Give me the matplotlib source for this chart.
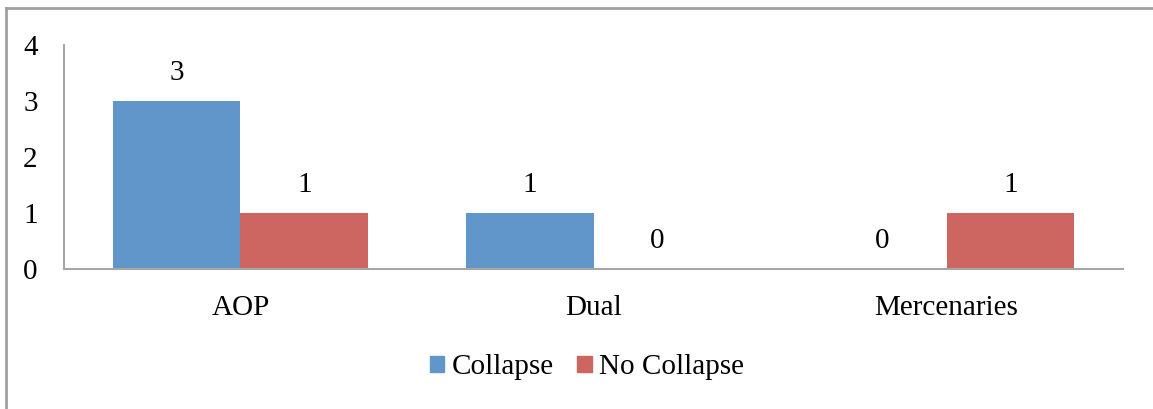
import matplotlib.pyplot as plt
import numpy as np
from matplotlib.lines import Line2D
from matplotlib.patches import Patch

categories = ['AOP', 'Dual', 'Mercenaries']
collapse = [3, 1, 0]
no_collapse = [1, 0, 1]
series_names = ['Collapse', 'No Collapse']
colors = ['#6096C9', '#CD6660']

plt.rcParams['font.family'] = ['Liberation Serif', 'DejaVu Serif']
fs = 21

fig = plt.figure(figsize=(11.53, 4.09), dpi=100)
ax = fig.add_axes([0.0555, 0.3423, 0.9185, 0.5477])

x = np.arange(len(categories))
w = 0.3625
bars1 = ax.bar(x - w / 2, collapse, w, color=colors[0], edgecolor='none')
bars2 = ax.bar(x + w / 2, no_collapse, w, color=colors[1], edgecolor='none')

# value labels above each bar
for bars in (bars1, bars2):
    for b in bars:
        h = b.get_height()
        ax.annotate(f'{h:.0f}', xy=(b.get_x() + b.get_width() / 2, h),
                    xytext=(0, 11), textcoords='offset points',
                    ha='center', va='bottom', fontsize=fs, color='black')

ax.set_xlim(-0.5, len(categories) - 0.5)
ax.set_ylim(0, 4)
ax.set_yticks([0, 1, 2, 3, 4])
ax.set_xticks(x)
ax.set_xticklabels(categories)
ax.tick_params(axis='both', length=0, labelsize=fs)
ax.tick_params(axis='y', pad=19)
ax.tick_params(axis='x', pad=19)

for s in ('top', 'right'):
    ax.spines[s].set_visible(False)
for s in ('left', 'bottom'):
    ax.spines[s].set_color('#A6A6A6')
    ax.spines[s].set_linewidth(1.5)

handles = [Patch(color=c) for c in colors]
fig.legend(handles, series_names, loc='center', bbox_to_anchor=(0.509, 0.102),
           ncol=2, frameon=False, fontsize=fs, handlelength=0.5,
           handleheight=0.5, handletextpad=0.25, columnspacing=0.8)

# outer chart border (left and top edges)
fig.add_artist(Line2D([6 / 1153, 6 / 1153], [0, 1 - 8 / 409],
                      transform=fig.transFigure, color='#A0A0A0', lw=2))
fig.add_artist(Line2D([6 / 1153, 1], [1 - 8 / 409, 1 - 8 / 409],
                      transform=fig.transFigure, color='#A0A0A0', lw=2))

fig.savefig('out.png', dpi=100)
